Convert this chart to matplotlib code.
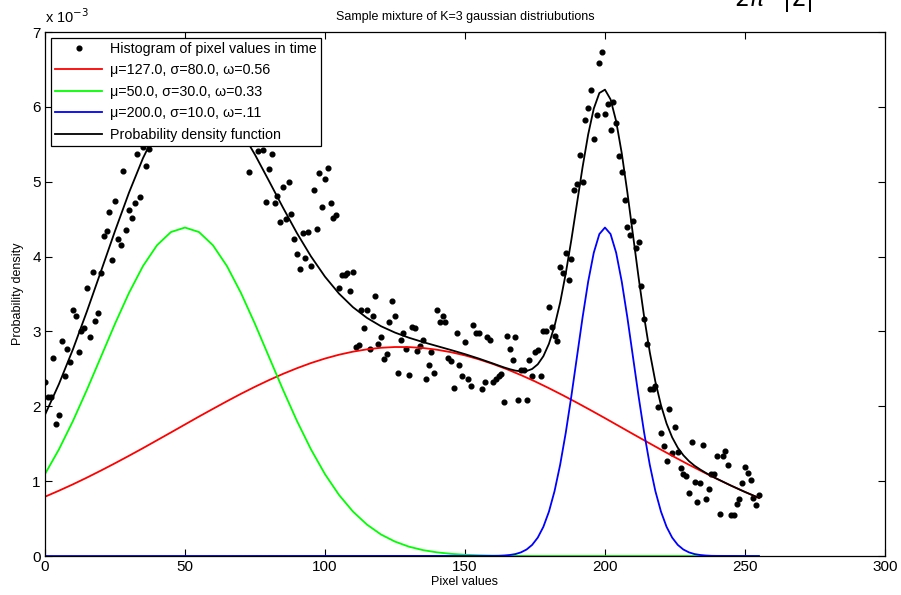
import numpy as np
import matplotlib.pyplot as plt

plt.rcParams['font.family'] = ['Liberation Sans', 'DejaVu Sans']

# histogram dots, one per pixel value 0..255 (units of 1e-3)
hist_x = list(range(256))
hist_y = [
    2.33, 2.13, 2.13, 2.64, 1.77, 1.89, 2.87, 2.40, 2.77, 2.59,
    3.28, 3.21, 2.72, 3.01, 3.05, 3.58, 2.93, 3.80, 3.14, 3.24,
    3.78, 4.28, 4.34, 4.60, 3.96, 4.74, 4.23, 4.15, 5.15, 4.36,
    4.62, 4.52, 4.71, 5.37, 4.79, 5.46, 5.21, 5.44, 5.62, 5.81,
    5.70, 5.95, 5.78, 6.02, 5.88, 6.10, 5.92, 6.25, 6.05, 6.31,
    6.12, 6.01, 6.28, 6.16, 6.35, 6.08, 6.22, 6.04, 6.19, 5.97,
    6.12, 5.89, 6.05, 5.83, 5.98, 5.76, 5.90, 5.68, 5.80, 5.60,
    5.74, 5.58, 5.52, 5.13, 5.55, 5.60, 5.41, 5.60, 5.42, 4.73,
    5.17, 5.37, 4.71, 4.81, 4.46, 4.93, 4.50, 4.99, 4.57, 4.24,
    4.03, 3.84, 4.32, 3.98, 4.33, 3.87, 4.89, 4.37, 5.12, 4.66,
    5.04, 5.19, 4.72, 4.52, 4.55, 3.58, 3.76, 3.75, 3.78, 3.54,
    3.79, 2.79, 2.82, 3.29, 3.04, 3.28, 2.76, 3.20, 3.47, 2.83,
    2.92, 2.63, 2.70, 3.12, 3.41, 3.21, 2.45, 2.89, 2.98, 2.77,
    2.42, 3.06, 3.05, 2.74, 2.80, 2.88, 2.37, 2.55, 2.73, 2.44,
    3.28, 3.13, 3.20, 3.13, 2.64, 2.61, 2.25, 2.98, 2.55, 2.40,
    2.86, 2.37, 2.27, 3.09, 2.98, 2.98, 2.23, 2.33, 2.93, 2.88,
    2.33, 2.36, 2.40, 2.43, 2.06, 2.94, 2.77, 2.62, 2.93, 2.09,
    2.48, 2.49, 2.09, 2.62, 2.40, 2.72, 2.75, 2.40, 3.00, 3.01,
    3.32, 3.06, 2.94, 2.87, 3.86, 3.78, 4.05, 3.69, 3.97, 4.89,
    4.97, 5.36, 4.99, 5.82, 5.99, 6.23, 5.57, 5.89, 6.59, 6.73,
    5.90, 6.04, 5.69, 6.06, 5.78, 5.35, 5.13, 4.76, 4.40, 4.29,
    4.47, 4.12, 4.19, 3.61, 3.16, 2.83, 2.23, 2.23, 2.27, 1.99,
    1.65, 1.47, 1.27, 1.97, 1.37, 1.72, 1.39, 1.18, 1.10, 1.07,
    0.84, 1.52, 0.99, 0.72, 0.98, 1.48, 0.76, 0.89, 1.10, 1.10,
    1.33, 0.56, 1.34, 1.40, 1.21, 0.55, 0.55, 0.70, 0.76, 0.98,
    1.19, 1.11, 1.02, 0.78, 0.68, 0.82,
]

# mixture components, read every 5 pixel values
comp_x = list(range(0, 256, 5))
red_y = [
    0.792, 0.873, 0.958, 1.048, 1.142, 1.239, 1.339, 1.441, 1.546, 1.651,
    1.757, 1.863, 1.966, 2.068, 2.167, 2.261, 2.350, 2.433, 2.509, 2.578,
    2.638, 2.689, 2.730, 2.761, 2.782, 2.792, 2.791, 2.779, 2.756, 2.723,
    2.680, 2.627, 2.565, 2.495, 2.417, 2.333, 2.242, 2.147, 2.048, 1.946,
    1.842, 1.736, 1.630, 1.525, 1.421, 1.319, 1.219, 1.123, 1.030, 0.941,
    0.856, 0.776,
]
green_y = [
    1.094, 1.425, 1.804, 2.222, 2.661, 3.101, 3.514, 3.873, 4.151, 4.328,
    4.388, 4.328, 4.151, 3.873, 3.514, 3.101, 2.661, 2.222, 1.804, 1.425,
    1.094, 0.817, 0.594, 0.420, 0.288, 0.193, 0.125, 0.079, 0.049, 0.029,
    0.017, 0.010, 0.005, 0.003, 0.001, 0, 0, 0, 0, 0,
    0, 0, 0, 0, 0, 0, 0, 0, 0, 0,
    0, 0,
]
blue_x = [0] + list(range(160, 241, 2)) + [255]
blue_y = [
    0,
    0.002, 0.003, 0.007, 0.014, 0.026, 0.049, 0.087, 0.149, 0.246, 0.390,
    0.594, 0.868, 1.220, 1.647, 2.136, 2.661, 3.186, 3.665, 4.051, 4.301,
    4.388,
    4.301, 4.051, 3.665, 3.186, 2.661, 2.136, 1.647, 1.220, 0.868, 0.594,
    0.390, 0.246, 0.149, 0.087, 0.049, 0.026, 0.014, 0.007, 0.003, 0.002,
    0,
]
pdf_x = list(range(0, 156, 5)) + list(range(160, 241, 2)) + [245, 250, 255]
pdf_y = [
    1.886, 2.298, 2.762, 3.270, 3.803, 4.340, 4.853, 5.314, 5.697, 5.979,
    6.145, 6.191, 6.117, 5.941, 5.681, 5.362, 5.011, 4.655, 4.313, 4.003,
    3.732, 3.506, 3.324, 3.181, 3.070, 2.985, 2.916, 2.858, 2.805, 2.752,
    2.697, 2.637,
    2.572, 2.545, 2.519, 2.496, 2.477, 2.467, 2.471, 2.499, 2.561, 2.669,
    2.836, 3.073, 3.387, 3.775, 4.224, 4.709, 5.194, 5.631, 5.976, 6.185,
    6.230, 6.100, 5.808, 5.380, 4.858, 4.291, 3.724, 3.193, 2.724, 2.330,
    2.015, 1.770, 1.585, 1.447, 1.346, 1.268, 1.206, 1.156, 1.111, 1.069,
    1.032,
    0.941, 0.856, 0.776,
]

labels = ['Histogram of pixel values in time',
          '\u03bc=127.0, \u03c3=80.0, \u03c9=0.56',
          '\u03bc=50.0, \u03c3=30.0, \u03c9=0.33',
          '\u03bc=200.0, \u03c3=10.0, \u03c9=.11',
          'Probability density function']

fig = plt.figure(figsize=(9.01, 5.95), dpi=100)
ax = fig.add_axes([0.0499, 0.0655, 0.9323, 0.8807])

ax.plot(hist_x, hist_y, 'o', color='black', markersize=3.4, label=labels[0])
ax.plot(comp_x, red_y, color='#ff0000', lw=1.3, label=labels[1])
ax.plot(comp_x, green_y, color='#00ff00', lw=1.3, label=labels[2])
ax.plot(blue_x, blue_y, color='#0000ff', lw=1.3, label=labels[3])
ax.plot(pdf_x, pdf_y, color='black', lw=1.3, label=labels[4])

ax.set_xlim(0, 300)
ax.set_ylim(0, 7)
ax.set_xticks(range(0, 301, 50))
ax.set_yticks(range(0, 8))
ax.tick_params(direction='in', top=True, right=True, length=5, labelsize=11, pad=3)
for s in ax.spines.values():
    s.set_linewidth(0.9)

ax.set_title('Sample mixture of K=3 gaussian distriubutions', fontsize=9, pad=9)
ax.set_xlabel('Pixel values', fontsize=9, labelpad=1)
ax.set_ylabel('Probability density', fontsize=9, labelpad=6)
ax.text(0.0, 1.012, 'x 10$^{-3}$', transform=ax.transAxes, fontsize=10.5, va='bottom', ha='left')

leg = ax.legend(loc='upper left', fontsize=10.3, frameon=True, fancybox=False,
                edgecolor='black', framealpha=1, handlelength=3.3,
                handletextpad=0.55, borderaxespad=0.4, labelspacing=0.52,
                borderpad=0.3)
leg.get_frame().set_linewidth(0.9)

# cut-off formula fragment at the top right
fig.text(0.815, 1.0, r'$2\pi$   $|\Sigma|$', fontsize=17, va='center', ha='left')

plt.savefig('out.png', dpi=100)
